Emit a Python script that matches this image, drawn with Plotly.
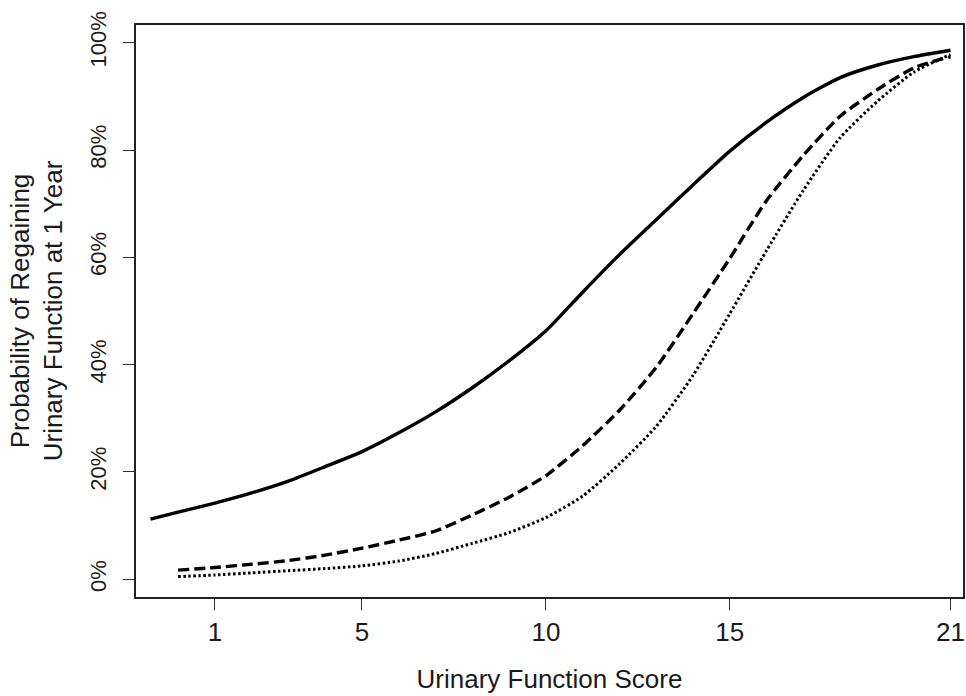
import plotly.graph_objects as go

# Urinary function score (x) and predicted probability (%) for three groups
solid_x = [-0.75, 0, 1, 2, 3, 4, 5, 6, 7, 8, 9, 10, 11, 12, 13, 14, 15, 16, 17, 18, 19, 20, 21]
solid_y = [11.2, 12.5, 14.2, 16.1, 18.3, 21.0, 23.8, 27.3, 31.2, 35.7, 40.7, 46.3, 53.5, 60.5,
           67.0, 73.5, 79.8, 85.2, 89.8, 93.5, 95.8, 97.4, 98.6]

dashed_x = [0, 1, 2, 3, 4, 5, 6, 7, 8, 9, 10, 11, 12, 13, 14, 15, 16, 17, 18, 19, 20, 21]
dashed_y = [1.7, 2.2, 2.8, 3.5, 4.5, 5.8, 7.3, 9.0, 12.0, 15.3, 19.3, 24.9, 31.5, 39.5,
            49.5, 59.8, 70.6, 79.0, 86.3, 91.2, 95.3, 97.4]

dotted_x = [0, 1, 2, 3, 4, 5, 6, 7, 8, 9, 10, 11, 12, 13, 14, 15, 16, 17, 18, 19, 20, 21]
dotted_y = [0.5, 0.8, 1.2, 1.6, 2.0, 2.5, 3.4, 4.8, 6.7, 8.7, 11.5, 15.5, 21.5, 28.5,
            38.0, 49.5, 61.3, 72.5, 82.3, 89.0, 94.5, 97.8]

x_ticks = [1, 5, 10, 15, 21]
y_ticks = [0, 20, 40, 60, 80, 100]
y_ticktext = ["0%", "20%", "40%", "60%", "80%", "100%"]

x_title = "Urinary Function Score"
y_title = "Probability of Regaining<br>Urinary Function at 1 Year"

FONT = "Liberation Sans, Arial, sans-serif"
TXT = "#1a1a1a"

fig = go.Figure()
fig.add_trace(go.Scatter(x=solid_x, y=solid_y, mode="lines",
                         line=dict(color="black", width=3.4, shape="spline", smoothing=0.6)))
fig.add_trace(go.Scatter(x=dashed_x, y=dashed_y, mode="lines",
                         line=dict(color="black", width=3.4, dash="11px,5px", shape="spline", smoothing=0.6)))
fig.add_trace(go.Scatter(x=dotted_x, y=dotted_y, mode="lines",
                         line=dict(color="black", width=3, dash="2.5px,2.5px", shape="spline", smoothing=0.6)))

fig.update_layout(
    width=966, height=696,
    margin=dict(l=136, r=3, t=25, b=99),
    paper_bgcolor="white", plot_bgcolor="white",
    showlegend=False,
    font=dict(family=FONT, color=TXT, size=22),
)
fig.update_xaxes(
    range=[-1.144, 21.34], tickmode="array", tickvals=x_ticks,
    ticks="outside", ticklen=11, tickwidth=1.3, tickcolor="#333",
    showline=True, linecolor="#222", linewidth=1.5, mirror=True,
    showgrid=False, zeroline=False, automargin=False,
    tickfont=dict(size=26, color=TXT), ticklabelstandoff=0,
    title=dict(text=x_title, font=dict(size=26, color=TXT), standoff=24),
)
fig.update_yaxes(
    range=[-3.3, 103.3], tickmode="array", tickvals=y_ticks, ticktext=y_ticktext,
    tickangle=-90,
    ticks="outside", ticklen=11, tickwidth=1.3, tickcolor="#333",
    showline=True, linecolor="#222", linewidth=1.5, mirror=True,
    showgrid=False, zeroline=False, automargin=False,
    tickfont=dict(size=22, color=TXT), ticklabelstandoff=8,
    title=dict(text=y_title, font=dict(size=26, color=TXT), standoff=16),
)

fig.write_html(
    "out.html",
    config={"displayModeBar": False},
    post_script="document.body.style.margin='0';document.body.style.overflow='hidden';",
)
